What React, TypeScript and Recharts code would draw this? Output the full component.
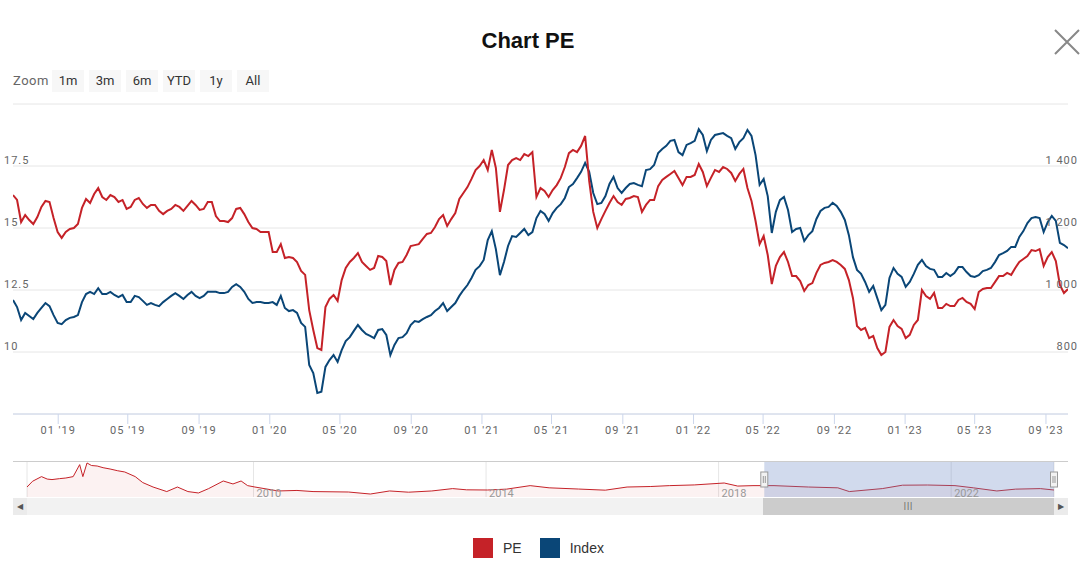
import React from 'react';
import {
  ComposedChart, Line, Area, XAxis, YAxis, CartesianGrid, ReferenceArea, ReferenceLine,
} from 'recharts';

// weekly closes in the zoomed window, the first one falls on START
const START = '2018-10-15';
const END = '2023-10-09';

const peValues = [
  16.33, 16.13, 15.24, 15.52, 15.32, 15.16, 15.44, 15.85, 16.09, 16.05,
  15.40, 14.84, 14.60, 14.84, 14.96, 15.00, 15.16, 15.81, 16.17, 16.01,
  16.37, 16.61, 16.25, 16.13, 16.33, 16.25, 16.05, 16.13, 15.77, 15.85,
  16.13, 16.21, 15.97, 15.81, 15.93, 15.93, 15.69, 15.56, 15.69, 15.77,
  15.93, 15.85, 15.69, 15.89, 16.09, 15.93, 15.73, 15.77, 16.05, 16.05,
  15.48, 15.28, 15.28, 15.24, 15.40, 15.77, 15.81, 15.56, 15.24, 15.00,
  14.96, 14.84, 14.84, 14.84, 14.03, 14.03, 14.35, 13.79, 13.83, 13.79,
  13.63, 13.27, 13.11, 11.69, 10.89, 10.16, 10.08, 11.81, 12.14, 12.30,
  12.06, 12.90, 13.39, 13.63, 13.79, 13.99, 13.63, 13.47, 13.31, 13.39,
  13.87, 13.83, 13.67, 12.70, 13.31, 13.59, 13.63, 13.91, 14.27, 14.31,
  14.35, 14.56, 14.76, 14.80, 15.04, 15.36, 15.52, 15.08, 15.36, 15.60,
  16.17, 16.41, 16.65, 16.98, 17.34, 17.50, 17.74, 17.34, 18.15, 17.42,
  15.65, 16.53, 17.54, 17.74, 17.82, 17.74, 17.98, 17.90, 18.06, 16.25,
  16.61, 16.49, 16.25, 16.53, 16.73, 17.02, 17.46, 18.02, 18.15, 18.06,
  18.31, 18.71, 16.90, 15.65, 15.00, 15.36, 15.69, 16.01, 16.29, 16.05,
  15.93, 16.17, 16.21, 16.29, 16.25, 15.65, 15.93, 16.13, 16.13, 16.69,
  16.94, 17.06, 17.18, 17.30, 17.02, 16.73, 17.06, 17.06, 17.14, 17.58,
  17.26, 16.69, 17.02, 17.34, 17.26, 17.46, 17.38, 17.22, 16.90, 17.18,
  17.38, 16.61, 16.09, 15.28, 14.35, 14.68, 13.91, 12.74, 13.47, 13.83,
  14.03, 13.63, 13.06, 13.06, 12.86, 12.46, 12.70, 12.78, 13.19, 13.51,
  13.59, 13.63, 13.71, 13.63, 13.51, 13.35, 12.90, 12.18, 11.05, 10.89,
  10.97, 10.56, 10.65, 10.16, 9.88, 10.00, 11.01, 11.29, 11.05, 10.93,
  10.56, 10.69, 11.09, 11.29, 12.50, 12.26, 12.14, 12.38, 11.77, 11.77,
  11.94, 11.85, 11.85, 12.10, 12.18, 12.02, 11.94, 11.73, 12.42, 12.54,
  12.58, 12.58, 12.82, 13.06, 13.06, 13.19, 13.11, 13.39, 13.63, 13.75,
  13.87, 14.11, 14.07, 14.15, 13.47, 13.83, 14.03, 13.67, 12.70, 12.38,
  12.54,
];

const indexValues = [
  968, 945, 903, 926, 916, 906, 926, 942, 958, 948,
  919, 894, 890, 903, 910, 913, 919, 961, 987, 994,
  987, 1006, 987, 987, 994, 984, 977, 984, 961, 961,
  981, 977, 965, 952, 958, 952, 948, 961, 971, 981,
  990, 981, 971, 984, 994, 981, 974, 981, 994, 994,
  994, 990, 990, 994, 1010, 1019, 1010, 994, 971, 958,
  961, 961, 958, 958, 961, 952, 981, 942, 932, 935,
  926, 894, 881, 758, 732, 668, 672, 752, 774, 790,
  768, 806, 835, 848, 868, 887, 871, 858, 852, 845,
  871, 874, 855, 790, 823, 845, 848, 861, 887, 900,
  897, 906, 913, 919, 932, 942, 958, 932, 945, 958,
  981, 1000, 1016, 1039, 1065, 1077, 1097, 1161, 1190, 1132,
  1048, 1090, 1142, 1174, 1171, 1184, 1197, 1177, 1187, 1232,
  1255, 1245, 1223, 1248, 1265, 1277, 1297, 1332, 1342, 1361,
  1381, 1410, 1381, 1313, 1277, 1281, 1303, 1342, 1365, 1329,
  1313, 1329, 1342, 1345, 1339, 1335, 1387, 1390, 1403, 1442,
  1455, 1465, 1481, 1484, 1445, 1435, 1468, 1474, 1481, 1519,
  1500, 1448, 1484, 1500, 1503, 1506, 1497, 1490, 1455, 1477,
  1490, 1516, 1497, 1435, 1339, 1358, 1303, 1184, 1252, 1290,
  1300, 1258, 1187, 1197, 1200, 1158, 1177, 1190, 1229, 1255,
  1265, 1268, 1281, 1271, 1252, 1226, 1177, 1106, 1065, 1052,
  1026, 994, 1013, 974, 935, 952, 1039, 1071, 1052, 1042,
  1010, 1026, 1052, 1081, 1097, 1077, 1068, 1065, 1042, 1042,
  1055, 1045, 1055, 1074, 1074, 1058, 1045, 1042, 1048, 1061,
  1065, 1071, 1090, 1113, 1119, 1126, 1139, 1139, 1171, 1190,
  1216, 1232, 1235, 1232, 1187, 1219, 1239, 1223, 1152, 1145,
  1135,
];

const monthTicks = [
  '2019-01-01', '2019-05-01', '2019-09-01', '2020-01-01', '2020-05-01',
  '2020-09-01', '2021-01-01', '2021-05-01', '2021-09-01', '2022-01-01',
  '2022-05-01', '2022-09-01', '2023-01-01', '2023-05-01', '2023-09-01',
];
const peTicks = [10, 12.5, 15, 17.5, 20];
const indexTicks = [800, 1000, 1200, 1400, 1600];

// navigator: the whole PE history (own scale)
const NAV_START = '2006-02-08';
const navDates = [
  '2006-02-08', '2006-03-15', '2006-05-10', '2006-06-15', '2006-07-15', '2006-09-01',
  '2006-10-10', '2006-11-25', '2007-01-05', '2007-01-25', '2007-02-20', '2007-03-20',
  '2007-04-25', '2007-06-01', '2007-07-15', '2007-09-01', '2007-10-15', '2007-12-20',
  '2008-02-05', '2008-04-10', '2008-07-05', '2008-09-10', '2008-11-15', '2009-01-20',
  '2009-03-25', '2009-06-25', '2009-08-25', '2009-10-15', '2009-11-25', '2010-01-10',
  '2010-06-05', '2010-10-01', '2011-01-10', '2011-08-20', '2012-01-05', '2012-05-05',
  '2012-09-01', '2013-01-25', '2013-06-05', '2013-09-01', '2014-01-10', '2014-05-10',
  '2014-10-05', '2015-02-01', '2015-08-05', '2016-01-20', '2016-06-05', '2016-11-01',
  '2017-02-25', '2017-08-01', '2018-02-05', '2018-05-01', '2018-08-05', '2018-12-15',
  '2019-07-20', '2020-01-20', '2020-04-01', '2020-10-25', '2021-03-01', '2021-08-05',
  '2022-01-25', '2022-05-20', '2022-10-15', '2023-02-10', '2023-07-15', '2023-10-09',
];
const navValues = [
  19.4, 26.0, 31.3, 28.5, 27.9, 29.0,
  29.7, 31.3, 45.0, 31.3, 46.9, 44.0,
  43.4, 41.5, 40.0, 38.0, 36.6, 31.3,
  24.5, 19.4, 14.2, 19.4, 14.2, 12.6,
  17.6, 26.3, 22.9, 26.3, 21.0, 19.4,
  14.9, 15.5, 14.2, 13.7, 11.4, 14.9,
  13.5, 14.9, 17.6, 16.2, 16.0, 17.0,
  21.0, 18.5, 17.1, 15.8, 19.4, 20.0,
  21.0, 21.8, 24.0, 20.5, 21.0, 21.0,
  19.4, 18.5, 14.2, 17.6, 21.5, 21.7,
  21.0, 18.5, 14.9, 17.0, 17.6, 16.0,
];
const navYears = ['2010-01-01', '2014-01-01', '2018-01-01', '2022-01-01'];

const zoomButtons = ['1m', '3m', '6m', 'YTD', '1y', 'All'];

const PE_COLOR = '#c52228';
const INDEX_COLOR = '#0a4677';
const legendItems = [
  { name: 'PE', color: PE_COLOR },
  { name: 'Index', color: INDEX_COLOR },
];

const WEEK = 7 * 24 * 3600 * 1000;
const t0 = Date.parse(START);
const tEnd = Date.parse(END);
const mainData = peValues.map((pe, i) => ({ t: t0 + i * WEEK, pe, index: indexValues[i] }));
const navData = navDates.map((d, i) => ({ t: Date.parse(d), v: navValues[i] }));

const fmtMonth = (v: number) => {
  const d = new Date(v);
  return `${String(d.getUTCMonth() + 1).padStart(2, '0')} '${String(d.getUTCFullYear()).slice(2)}`;
};
const fmtSpace = (v: number) => String(v).replace(/\B(?=(\d{3})+(?!\d))/g, ' ');

function PeTick({ y, payload }: any) {
  if (payload.value === 20) return <g />;
  return (
    <text x={4} y={y - 2} fill="#666" fontSize={11} letterSpacing={1}>
      {payload.value}
    </text>
  );
}

function IndexTick({ y, payload }: any) {
  if (payload.value === 1600) return <g />;
  return (
    <text x={1078} y={y - 2} fill="#666" fontSize={11} letterSpacing={1} textAnchor="end">
      {fmtSpace(payload.value)}
    </text>
  );
}

function YearTick({ x, y, payload }: any) {
  return (
    <text x={x + 3} y={y} fill="#999" fontSize={11}>
      {new Date(payload.value).getUTCFullYear()}
    </text>
  );
}

function Handle({ viewBox }: any) {
  if (!viewBox) return null;
  const cx = viewBox.x;
  const cy = viewBox.y + viewBox.height / 2;
  return (
    <g>
      <rect x={cx - 3.5} y={cy - 7.5} width={7} height={15} fill="#f2f2f2" stroke="#999" />
      <line x1={cx - 1} x2={cx - 1} y1={cy - 3.5} y2={cy + 3.5} stroke="#999" />
      <line x1={cx + 1} x2={cx + 1} y1={cy - 3.5} y2={cy + 3.5} stroke="#999" />
    </g>
  );
}

export default function App() {
  return (
    <div style={{ position: 'absolute', left: 0, top: 0, width: 1084, height: 578, background: '#fff', fontFamily: 'Roboto, sans-serif', overflow: 'hidden' }}>
      <div style={{ position: 'absolute', left: 0, top: 0 }}>
        <ComposedChart width={1084} height={450} data={mainData} margin={{ top: 104, right: 15, bottom: 6, left: 12 }}>
          <CartesianGrid yAxisId="pe" vertical={false} stroke="#e6e6e6" />
          <XAxis
            dataKey="t"
            type="number"
            scale="time"
            domain={[t0, tEnd]}
            allowDataOverflow
            ticks={monthTicks.map((d) => Date.parse(d))}
            interval={0}
            tickFormatter={fmtMonth}
            height={30}
            tickSize={10}
            axisLine={{ stroke: '#ccd6eb' }}
            tickLine={{ stroke: '#ccd6eb' }}
            tick={{ fill: '#666', fontSize: 11, letterSpacing: 1 }}
          />
          <YAxis yAxisId="pe" domain={[7.5, 20]} ticks={peTicks} width={1} axisLine={false} tickLine={false} tick={PeTick} interval={0} />
          <YAxis yAxisId="idx" orientation="right" domain={[600, 1600]} ticks={indexTicks} width={1} axisLine={false} tickLine={false} tick={IndexTick} interval={0} />
          <Line yAxisId="idx" dataKey="index" name="Index" type="linear" stroke={INDEX_COLOR} strokeWidth={2} dot={false} isAnimationActive={false} />
          <Line yAxisId="pe" dataKey="pe" name="PE" type="linear" stroke={PE_COLOR} strokeWidth={2} dot={false} isAnimationActive={false} />
        </ComposedChart>
      </div>

      <div style={{ position: 'absolute', left: 0, top: 28, width: 1056, textAlign: 'center', fontFamily: '"Liberation Sans", Arial, sans-serif', fontWeight: 700, fontSize: 22, lineHeight: '26px', color: '#111' }}>
        Chart PE
      </div>
      <svg style={{ position: 'absolute', left: 1054, top: 29 }} width={26} height={26}>
        <path d="M1 1 L25 25 M25 1 L1 25" stroke="#888" strokeWidth={2} fill="none" />
      </svg>

      <div style={{ position: 'absolute', left: 13, top: 70, height: 22, lineHeight: '22px', fontSize: 13, color: '#666', letterSpacing: 0.5 }}>Zoom</div>
      {zoomButtons.map((b, i) => (
        <div key={b} style={{ position: 'absolute', left: 52 + i * 37, top: 70, width: 32, height: 22, lineHeight: '22px', textAlign: 'center', background: '#f7f7f7', fontSize: 13, color: '#333' }}>
          {b}
        </div>
      ))}

      {/* navigator */}
      <div style={{ position: 'absolute', left: 13, top: 461, width: 1055, height: 1, background: '#cccccc' }} />
      <div style={{ position: 'absolute', left: 0, top: 455 }}>
        <ComposedChart width={1084} height={60} data={navData} margin={{ top: 7, right: 30, bottom: 17, left: 27 }}>
          <CartesianGrid horizontal={false} stroke="#e6e6e6" />
          <XAxis
            dataKey="t"
            type="number"
            scale="time"
            domain={[Date.parse(NAV_START), tEnd]}
            allowDataOverflow
            ticks={navYears.map((d) => Date.parse(d))}
            interval={0}
            height={1}
            tickSize={0}
            tickMargin={0}
            axisLine={false}
            tickLine={false}
            tick={YearTick}
          />
          <YAxis domain={[8, 48]} hide />
          <Area dataKey="v" type="linear" stroke={PE_COLOR} strokeWidth={1} fill={PE_COLOR} fillOpacity={0.06} dot={false} isAnimationActive={false} />
          <ReferenceArea x1={t0} x2={tEnd} fill="#6685c2" fillOpacity={0.3} stroke="none" />
          <ReferenceLine x={t0} stroke="none" label={<Handle />} />
          <ReferenceLine x={tEnd} stroke="none" label={<Handle />} />
        </ComposedChart>
      </div>

      {/* scrollbar */}
      <div style={{ position: 'absolute', left: 13, top: 498, width: 1055, height: 17, background: '#f2f2f2' }} />
      <div style={{ position: 'absolute', left: 13, top: 498, width: 14, height: 17, background: '#ebebeb', color: '#555', fontSize: 8, lineHeight: '17px', textAlign: 'center' }}>◀</div>
      <div style={{ position: 'absolute', left: 1054, top: 498, width: 14, height: 17, background: '#ebebeb', color: '#555', fontSize: 8, lineHeight: '17px', textAlign: 'center' }}>▶</div>
      <div style={{ position: 'absolute', left: 763, top: 498, width: 291, height: 17, background: '#cccccc', color: '#555', fontSize: 9, lineHeight: '17px', textAlign: 'center', letterSpacing: 1 }}>|||</div>

      {/* legend */}
      <div style={{ position: 'absolute', left: 473, top: 538, display: 'flex', alignItems: 'center', fontFamily: '"Liberation Sans", Arial, sans-serif', fontSize: 14, color: '#333' }}>
        {legendItems.map((it) => (
          <div key={it.name} style={{ display: 'flex', alignItems: 'center', marginRight: 18 }}>
            <div style={{ width: 20, height: 20, background: it.color, marginRight: 10 }} />
            <span>{it.name}</span>
          </div>
        ))}
      </div>
    </div>
  );
}
